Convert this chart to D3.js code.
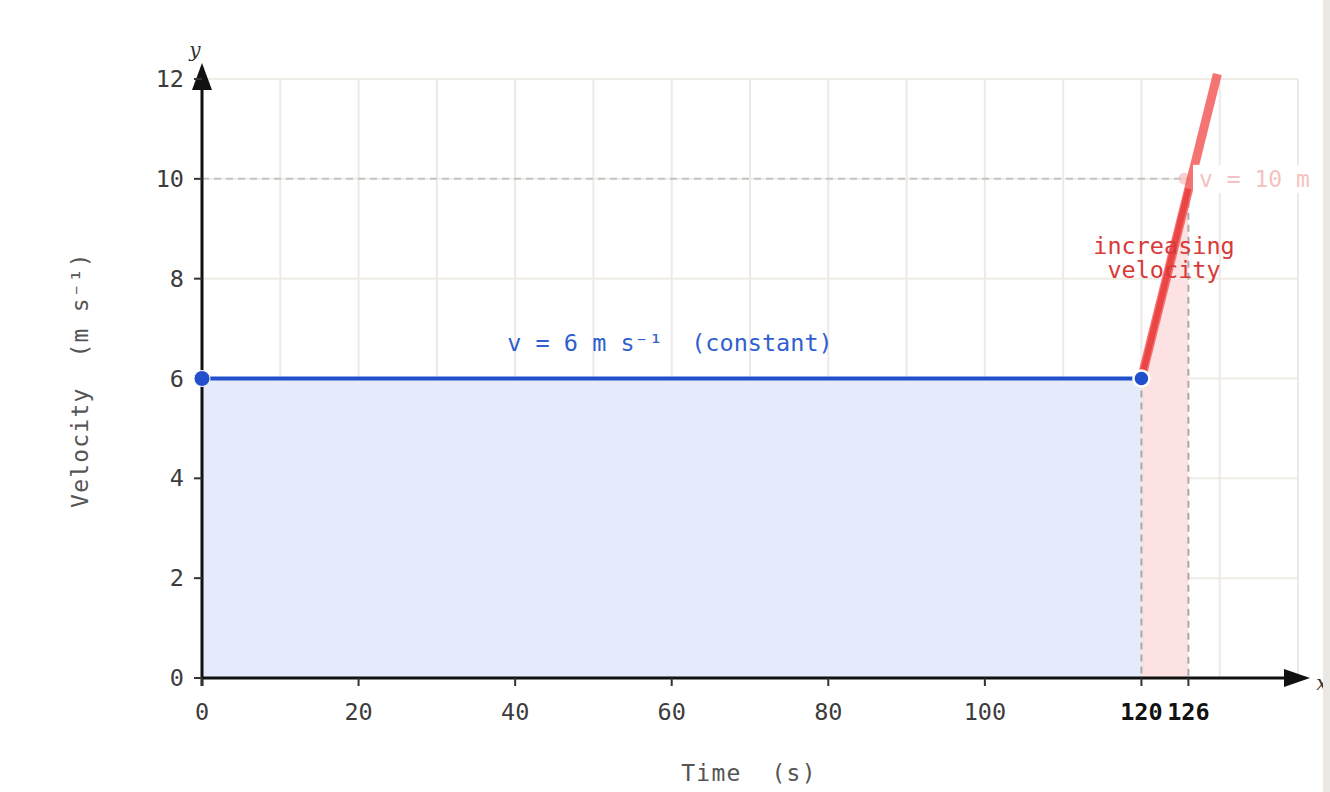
<!DOCTYPE html>
<html>
<head>
<meta charset="utf-8">
<script src="https://cdn.jsdelivr.net/npm/d3@7"></script>
<style>
  body { margin: 0; background: #fff; overflow: hidden; }
  text { font-family: "DejaVu Sans Mono", monospace; white-space: pre; }
</style>
</head>
<body>
<script>
const width = 1330;
const height = 792;

// data
const constTimes = [0, 120];
const constVelocity = 6;
const accelTimes = [120, 126];
const accelVelocities = [6, 9.8];
const tangentTimes = [120, 129.7];
const tangentVelocities = [6, 12.1];
const markTime = 126;
const markVelocity = 10;
const yTicks = [0, 2, 4, 6, 8, 10, 12];
const xTicks = [0, 20, 40, 60, 80, 100, 120, 126];
const boldTicks = [120, 126];
const xGridLines = [10, 20, 30, 40, 50, 60, 70, 80, 90, 100, 110, 120, 130, 140];

const x = d3.scaleLinear().domain([0, 140]).range([202, 1298]);
const y = d3.scaleLinear().domain([0, 12]).range([678, 79]);

const svg = d3.select("body")
	.append("svg")
	.attr("width", width)
	.attr("height", height);

// grid
const grid = svg.append("g");
grid.selectAll(".hg")
	.data(yTicks)
	.enter()
	.append("line")
	.attr("x1", x(0)).attr("x2", x(140))
	.attr("y1", d => y(d)).attr("y2", d => y(d))
	.attr("stroke", "#eeece5")
	.attr("stroke-width", 2);
grid.selectAll(".vg")
	.data(xGridLines)
	.enter()
	.append("line")
	.attr("x1", d => x(d)).attr("x2", d => x(d))
	.attr("y1", y(0)).attr("y2", y(12))
	.attr("stroke", "#eee8e6")
	.attr("stroke-width", 2);

// shaded areas
svg.append("path")
	.datum(constTimes)
	.attr("d", d3.area().x(d => x(d)).y0(y(0)).y1(y(constVelocity)))
	.attr("fill", "#e5ebfa");

svg.append("path")
	.datum(accelTimes.map((t, i) => [t, accelVelocities[i]]))
	.attr("d", d3.area().x(d => x(d[0])).y0(y(0)).y1(d => y(d[1])))
	.attr("fill", "#fce2e2");

// dashed guides
svg.append("line")
	.attr("x1", x(0)).attr("x2", x(markTime))
	.attr("y1", y(markVelocity)).attr("y2", y(markVelocity))
	.attr("stroke", "#c4c4c4")
	.attr("stroke-width", 2)
	.attr("stroke-dasharray", "7,5");
svg.append("line")
	.attr("x1", x(accelTimes[0])).attr("x2", x(accelTimes[0]))
	.attr("y1", y(constVelocity)).attr("y2", y(0))
	.attr("stroke", "#aaaaaa")
	.attr("stroke-width", 2)
	.attr("stroke-dasharray", "7,5");
svg.append("line")
	.attr("x1", x(accelTimes[1])).attr("x2", x(accelTimes[1]))
	.attr("y1", y(accelVelocities[1])).attr("y2", y(0))
	.attr("stroke", "#aaaaaa")
	.attr("stroke-width", 2)
	.attr("stroke-dasharray", "7,5");

// axes
svg.append("line")
	.attr("x1", x(0)).attr("x2", 1290)
	.attr("y1", y(0)).attr("y2", y(0))
	.attr("stroke", "#111").attr("stroke-width", 3);
svg.append("path")
	.attr("d", `M1310,${y(0)} L1284,${y(0) - 9} L1284,${y(0) + 9} Z`)
	.attr("fill", "#111");
svg.append("line")
	.attr("x1", x(0)).attr("x2", x(0))
	.attr("y1", y(0) + 8).attr("y2", 80)
	.attr("stroke", "#111").attr("stroke-width", 3);
svg.append("path")
	.attr("d", `M${x(0)},63 L${x(0) - 10},90 L${x(0) + 10},90 Z`)
	.attr("fill", "#111");

// ticks
svg.selectAll(".xt")
	.data(xTicks)
	.enter()
	.append("line")
	.attr("x1", d => x(d)).attr("x2", d => x(d))
	.attr("y1", y(0)).attr("y2", y(0) + 8)
	.attr("stroke", "#333").attr("stroke-width", 2);
svg.selectAll(".xl")
	.data(xTicks)
	.enter()
	.append("text")
	.attr("x", d => x(d))
	.attr("y", 720)
	.attr("text-anchor", "middle")
	.style("font-size", "23.5px")
	.style("font-weight", d => boldTicks.includes(d) ? "bold" : "normal")
	.attr("fill", d => boldTicks.includes(d) ? "#111" : "#3c3c3c")
	.text(d => d);

svg.selectAll(".yt")
	.data(yTicks)
	.enter()
	.append("line")
	.attr("x1", x(0) - 8).attr("x2", x(0))
	.attr("y1", d => y(d)).attr("y2", d => y(d))
	.attr("stroke", "#333").attr("stroke-width", 2);
svg.selectAll(".yl")
	.data(yTicks)
	.enter()
	.append("text")
	.attr("x", 184)
	.attr("y", d => y(d) + 8)
	.attr("text-anchor", "end")
	.style("font-size", "23.5px")
	.attr("fill", "#3c3c3c")
	.text(d => d);

// axis letters
svg.append("text")
	.attr("x", 195).attr("y", 57)
	.attr("text-anchor", "middle")
	.style("font-family", "'DejaVu Serif', serif")
	.style("font-style", "italic")
	.style("font-size", "20px")
	.attr("fill", "#333")
	.text("y");
svg.append("text")
	.attr("x", 1322).attr("y", 690)
	.attr("text-anchor", "middle")
	.style("font-family", "'DejaVu Serif', serif")
	.style("font-style", "italic")
	.style("font-size", "20px")
	.attr("fill", "#333")
	.text("x");

// axis titles
svg.append("text")
	.attr("x", 749).attr("y", 781)
	.attr("text-anchor", "middle")
	.style("font-size", "23px")
	.style("letter-spacing", "1.2px")
	.attr("fill", "#555")
	.text("Time  (s)");
svg.append("text")
	.attr("transform", "translate(88,380) rotate(-90)")
	.attr("text-anchor", "middle")
	.style("font-size", "23px")
	.style("letter-spacing", "1.2px")
	.attr("fill", "#555")
	.text("Velocity  (m s⁻¹)");

// constant velocity line
svg.append("path")
	.datum(constTimes)
	.attr("d", d3.line().x(d => x(d)).y(y(constVelocity)))
	.attr("stroke", "#2250cc")
	.attr("stroke-width", 4)
	.attr("fill", "none");

// faded mark at v = 10
svg.append("circle")
	.attr("cx", x(markTime) - 4).attr("cy", y(markVelocity))
	.attr("r", 6)
	.attr("fill", "#f3b3b3")
	.attr("opacity", 0.6);

// increasing velocity lines
svg.append("path")
	.datum(tangentTimes.map((t, i) => [t, tangentVelocities[i]]))
	.attr("d", d3.line().x(d => x(d[0])).y(d => y(d[1])))
	.attr("stroke", "#f25c5c")
	.attr("stroke-opacity", 0.85)
	.attr("stroke-width", 9)
	.attr("fill", "none");
svg.append("path")
	.datum(accelTimes.map((t, i) => [t, accelVelocities[i]]))
	.attr("d", d3.line().x(d => x(d[0])).y(d => y(d[1])))
	.attr("stroke", "#e83a3a")
	.attr("stroke-opacity", 0.8)
	.attr("stroke-width", 6)
	.attr("fill", "none");

// v = 10 label (cut by the window edge, as in the source)
svg.append("rect")
	.attr("x", 1193).attr("y", y(markVelocity) - 14)
	.attr("width", 130).attr("height", 28)
	.attr("fill", "#fff");
svg.append("text")
	.attr("x", 1199).attr("y", y(markVelocity) + 8)
	.style("font-size", "23px")
	.attr("fill", "#f5c2c2")
	.text("v = 10 m s⁻¹");

// points
svg.append("circle")
	.attr("cx", x(0)).attr("cy", y(constVelocity))
	.attr("r", 8)
	.attr("fill", "#2250cc")
	.attr("stroke", "#fff").attr("stroke-width", 1);
svg.append("circle")
	.attr("cx", x(120)).attr("cy", y(constVelocity))
	.attr("r", 8)
	.attr("fill", "#2250cc")
	.attr("stroke", "#fff").attr("stroke-width", 2.5);

// annotations
svg.append("text")
	.attr("x", 670).attr("y", 351)
	.attr("text-anchor", "middle")
	.style("font-size", "23.5px")
	.attr("fill", "#2f5fcf")
	.text("v = 6 m s⁻¹  (constant)");
svg.append("text")
	.attr("x", 1164).attr("y", 254)
	.attr("text-anchor", "middle")
	.style("font-size", "23.5px")
	.attr("fill", "#d83a3a")
	.text("increasing");
svg.append("text")
	.attr("x", 1164).attr("y", 278)
	.attr("text-anchor", "middle")
	.style("font-size", "23.5px")
	.attr("fill", "#d83a3a")
	.text("velocity");

// window edge strip
svg.append("rect")
	.attr("x", 1323).attr("y", 0)
	.attr("width", 7).attr("height", height)
	.attr("fill", "#ebe7e2");
</script>
</body>
</html>
